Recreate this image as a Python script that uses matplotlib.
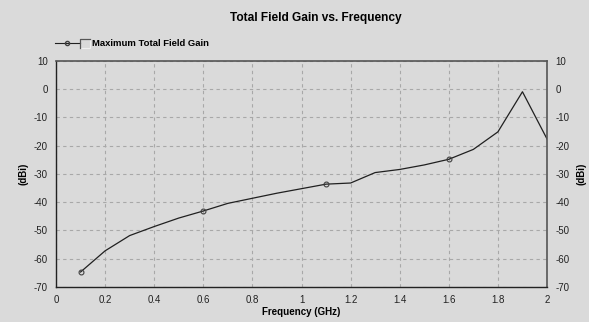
import matplotlib
matplotlib.use("Agg")
from matplotlib import pyplot as plt
from matplotlib.lines import Line2D
from matplotlib.patches import Rectangle

# values
freq = [0.1, 0.2, 0.3, 0.4, 0.5, 0.6, 0.7, 0.8, 0.9, 1.0,
        1.1, 1.2, 1.3, 1.4, 1.5, 1.6, 1.7, 1.8, 1.9, 2.0]
gain = [-64.7, -57.2, -51.8, -48.6, -45.6, -43.1, -40.4, -38.6, -36.8, -35.2,
        -33.6, -33.2, -29.5, -28.4, -26.8, -24.8, -21.3, -15.1, -0.9, -17.6]
x_ticks = [0, 0.2, 0.4, 0.6, 0.8, 1, 1.2, 1.4, 1.6, 1.8, 2]
x_labels = ["0", "0.2", "0.4", "0.6", "0.8", "1", "1.2", "1.4", "1.6", "1.8", "2"]
y_ticks = [10, 0, -10, -20, -30, -40, -50, -60, -70]

bg = "#dadada"
plt.rcParams["font.family"] = ["Liberation Sans", "DejaVu Sans"]
plt.rcParams["axes.unicode_minus"] = False

fig = plt.figure(figsize=(5.89, 3.22), dpi=100, facecolor=bg)
ax = fig.add_axes([0.0951, 0.1087, 0.8336, 0.702])
ax.set_facecolor(bg)

ax.plot(freq, gain, color="#202020", linewidth=0.9, marker="o", markersize=3.5,
        markerfacecolor="none", markeredgecolor="#404040", markeredgewidth=0.8,
        markevery=5)

ax.set_xlim(0, 2)
ax.set_ylim(-70, 10)
ax.set_xticks(x_ticks)
ax.set_xticklabels(x_labels)
ax.set_yticks(y_ticks)
ax.tick_params(axis="both", length=0, labelsize=7, colors="#222222", pad=6)
ax.tick_params(axis="y", right=True, labelright=True)

ax.grid(True, linestyle=(0, (3, 3)), color="#a8a8a8", linewidth=0.8)
for side in ("left", "bottom"):
    ax.spines[side].set_color("#222222")
    ax.spines[side].set_linewidth(1.0)
for side in ("top", "right"):
    ax.spines[side].set_color("#555555")
    ax.spines[side].set_linewidth(1.2)

ax.set_xlabel("Frequency (GHz)", fontsize=7, fontweight="bold", labelpad=1)
ax.set_ylabel("(dBi)", fontsize=7, fontweight="bold", labelpad=4)
fig.text(0.987, 0.46, "(dBi)", fontsize=7, fontweight="bold", rotation=90,
         ha="center", va="center")

fig.text(0.537, 0.944, "Total Field Gain vs. Frequency", fontsize=8.6,
         fontweight="bold", ha="center", va="center")

# legend: line with marker, checkbox, label
fig.add_artist(Line2D([0.093, 0.136], [0.866, 0.866], color="#202020",
                      linewidth=0.8, transform=fig.transFigure))
fig.add_artist(Line2D([0.114], [0.866], marker="o", markersize=3,
                      markerfacecolor="none", markeredgecolor="#404040",
                      transform=fig.transFigure))
fig.add_artist(Rectangle((0.136, 0.851), 0.0165, 0.029, fill=False,
                         edgecolor="#f0f0f0", linewidth=0.8,
                         transform=fig.transFigure))
fig.add_artist(Line2D([0.136, 0.136, 0.1525], [0.851, 0.880, 0.880],
                      color="#555555", linewidth=0.9,
                      transform=fig.transFigure))
fig.text(0.157, 0.866, "Maximum Total Field Gain", fontsize=6.8,
         fontweight="bold", ha="left", va="center")

fig.savefig("out.png", dpi=100, facecolor=bg)
